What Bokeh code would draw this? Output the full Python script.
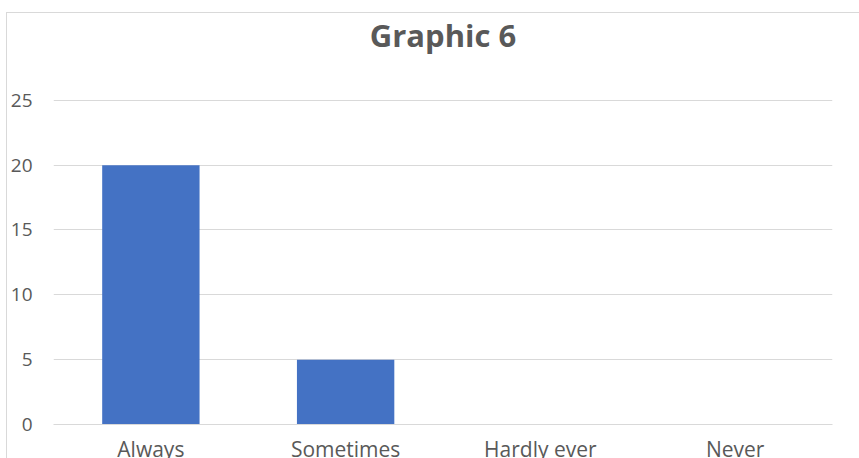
from bokeh.plotting import figure
from bokeh.models import ColumnDataSource, Label
from bokeh.embed import file_html
from bokeh.resources import INLINE

categories = ["Always", "Sometimes", "Hardly ever", "Never"]
values = [20, 5, 0, 0]
y_ticks = [0, 5, 10, 15, 20, 25]
title_text = "Graphic 6"

src = ColumnDataSource(dict(cat=categories, val=values))

W, H = 853, 452
ML, MR, MB = 46, 28, 40
GRID_TOP_PX = 87          # space between figure top and the top gridline
frame_h = H - MB
y_end = y_ticks[-1] * frame_h / (frame_h - GRID_TOP_PX)

p = figure(x_range=categories, y_range=(0, y_end), width=W, height=H,
           output_backend="svg", toolbar_location=None,
           min_border_left=ML, min_border_right=MR, min_border_top=0,
           min_border_bottom=MB)
p.margin = (12, 0, 0, 6)
p.styles = {"border-top": "1px solid #d9d9d9", "border-left": "1px solid #d9d9d9"}

p.vbar(x="cat", top="val", width=0.5, source=src, color="#4472C4", line_color=None)

title = Label(x=(W - ML - MR) / 2, x_units="screen", y=y_ticks[-1], y_units="data",
              y_offset=65, text=title_text,
              text_align="center", text_baseline="alphabetic",
              text_font="Open Sans", text_font_size="31px",
              text_font_style="bold", text_color="#595959")
p.add_layout(title)

p.outline_line_color = None
p.xgrid.grid_line_color = None
p.ygrid.grid_line_color = "#d9d9d9"
p.ygrid.grid_line_width = 1
p.yaxis.ticker = y_ticks
p.yaxis.axis_line_color = None
p.yaxis.major_tick_line_color = None
p.yaxis.minor_tick_line_color = None
p.yaxis.major_label_text_font = "Open Sans"
p.yaxis.major_label_text_font_size = "19px"
p.yaxis.major_label_text_color = "#595959"
p.yaxis.major_label_standoff = 15

p.xaxis.axis_line_color = "#d9d9d9"
p.xaxis.major_tick_line_color = None
p.xaxis.minor_tick_line_color = None
p.xaxis.major_label_text_font = "Open Sans"
p.xaxis.major_label_text_font_size = "21px"
p.xaxis.major_label_text_color = "#595959"
p.xaxis.major_label_standoff = 4
p.x_range.range_padding = 0

open("out.html", "w").write(file_html(p, INLINE))
